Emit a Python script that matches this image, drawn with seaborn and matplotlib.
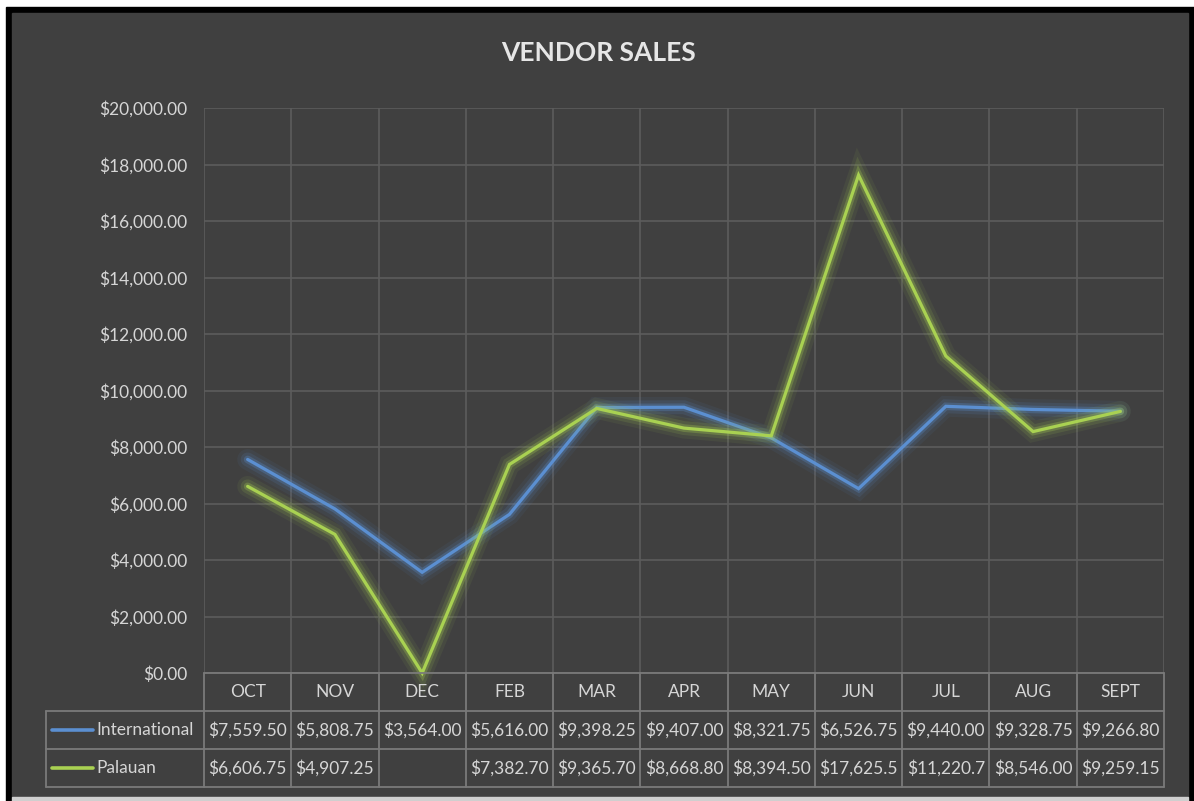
import numpy as np
import pandas as pd
import matplotlib
matplotlib.use("Agg")
import matplotlib.pyplot as plt
import matplotlib.patheffects as pe
from matplotlib.patches import Rectangle
from matplotlib.lines import Line2D
import seaborn as sns

# -------------------------------
# Data
# -------------------------------
months = ["OCT", "NOV", "DEC", "FEB", "MAR", "APR", "MAY", "JUN", "JUL", "AUG", "SEPT"]
international = [7559.50, 5808.75, 3564.00, 5616.00, 9398.25, 9407.00,
                 8321.75, 6526.75, 9440.00, 9328.75, 9266.80]
palauan = [6606.75, 4907.25, None, 7382.70, 9365.70, 8668.80,
           8394.50, 17625.5, 11220.7, 8546.00, 9259.15]
series_names = ["International", "Palauan"]
# how the values are shown in the table (as the sheet shows them)
intl_labels = ["$7,559.50", "$5,808.75", "$3,564.00", "$5,616.00", "$9,398.25", "$9,407.00",
               "$8,321.75", "$6,526.75", "$9,440.00", "$9,328.75", "$9,266.80"]
pal_labels = ["$6,606.75", "$4,907.25", "", "$7,382.70", "$9,365.70", "$8,668.80",
              "$8,394.50", "$17,625.5", "$11,220.7", "$8,546.00", "$9,259.15"]

colors = {"International": "#5b8fd1", "Palauan": "#a9d152"}
BG = "#404040"
TXT = "#d6d6d6"
GRID = "#5c5c5c"
TBL = "#7a7a7a"
FS = 12.5

df = pd.DataFrame({
    "month": months * 2,
    "series": ["International"] * len(months) + ["Palauan"] * len(months),
    "value": international + palauan,
})
# empty cells are plotted as zero, like the sheet does
df["plot_value"] = df["value"].fillna(0)

# -------------------------------
# Figure
# -------------------------------
sns.set_theme(style="dark")
plt.rcParams["font.family"] = ["Lato", "DejaVu Sans"]

W, H = 1194, 801
fig = plt.figure(figsize=(W / 100, H / 100), dpi=100, facecolor="white")


def fx(x):
    return x / W


def fy(y):
    return 1 - y / H


# black frame and dark background
fig.patches.append(Rectangle((fx(6), fy(801)), fx(1194) - fx(6), fy(7) - fy(801),
                             transform=fig.transFigure, color="black", zorder=-3))
fig.patches.append(Rectangle((fx(12), fy(797)), fx(1188) - fx(12), fy(13) - fy(797),
                             transform=fig.transFigure, color=BG, zorder=-2))
fig.patches.append(Rectangle((fx(12), fy(801)), fx(1188) - fx(12), fy(797) - fy(801),
                             transform=fig.transFigure, color="#cfcfcf", zorder=-2))

fig.text(fx(599), fy(53), "VENDOR SALES", color="#e6e6e6", fontsize=19,
         fontweight="bold", ha="center", va="center")

# -------------------------------
# Line chart
# -------------------------------
ax = fig.add_axes([fx(204), fy(673), fx(1164) - fx(204), fy(108) - fy(673)])
ax.set_facecolor("none")

sns.lineplot(data=df, x="month", y="plot_value", hue="series", palette=colors,
             hue_order=series_names, sort=False, legend=False, linewidth=2.3, ax=ax)

for line, name in zip(ax.get_lines(), series_names):
    c = colors[name]
    line.set_path_effects([
        pe.Stroke(linewidth=15, foreground=c, alpha=0.07),
        pe.Stroke(linewidth=10, foreground=c, alpha=0.13),
        pe.Stroke(linewidth=5.5, foreground=c, alpha=0.28),
        pe.Normal(),
    ])
    line.set_solid_joinstyle("miter")
    line.set_clip_on(False)

ax.set_xlim(-0.5, len(months) - 0.5)
ax.set_ylim(0, 20000)
ax.set_yticks(np.arange(0, 20001, 2000))
ax.yaxis.set_major_formatter(lambda v, p: f"${v:,.2f}")
ax.set_xticks(np.arange(-0.5, len(months), 1.0))
ax.set_xticklabels([])
ax.tick_params(axis="y", length=0, pad=12, labelsize=FS, labelcolor=TXT)
ax.tick_params(axis="x", length=0)
ax.set_xlabel("")
ax.set_ylabel("")
ax.grid(True, color=GRID, linewidth=1.2)
for s in ax.spines.values():
    s.set_visible(False)

# -------------------------------
# Data table under the chart
# -------------------------------
tax = fig.add_axes([fx(46), fy(787), fx(1164) - fx(46), fy(673) - fy(787)])
tax.set_xlim(46, 1164)
tax.set_ylim(787, 673)
tax.axis("off")

col_edges = np.linspace(204, 1164, len(months) + 1)
row_edges = [673, 711, 749, 787]
col_mid = (col_edges[:-1] + col_edges[1:]) / 2

kw = dict(color=TBL, linewidth=1.3, clip_on=False)
tax.plot([204, 1164], [673, 673], **kw)
for yv in row_edges[1:]:
    tax.plot([46, 1164], [yv, yv], **kw)
tax.plot([46, 46], [711, 787], **kw)
for xv in col_edges:
    tax.plot([xv, xv], [673, 787], **kw)

for xm, m in zip(col_mid, months):
    tax.text(xm, 692, m, color=TXT, fontsize=FS, ha="center", va="center")

for r, (name, labels) in enumerate(zip(series_names, [intl_labels, pal_labels])):
    ym = (row_edges[r + 1] + row_edges[r + 2]) / 2
    tax.add_line(Line2D([52, 93], [ym, ym], color=colors[name], linewidth=2.6))
    tax.text(96, ym, name, color=TXT, fontsize=FS, ha="left", va="center")
    for xm, lab in zip(col_mid, labels):
        tax.text(xm, ym, lab, color=TXT, fontsize=FS, ha="center", va="center")

fig.savefig("out.png", dpi=100, facecolor=fig.get_facecolor())
